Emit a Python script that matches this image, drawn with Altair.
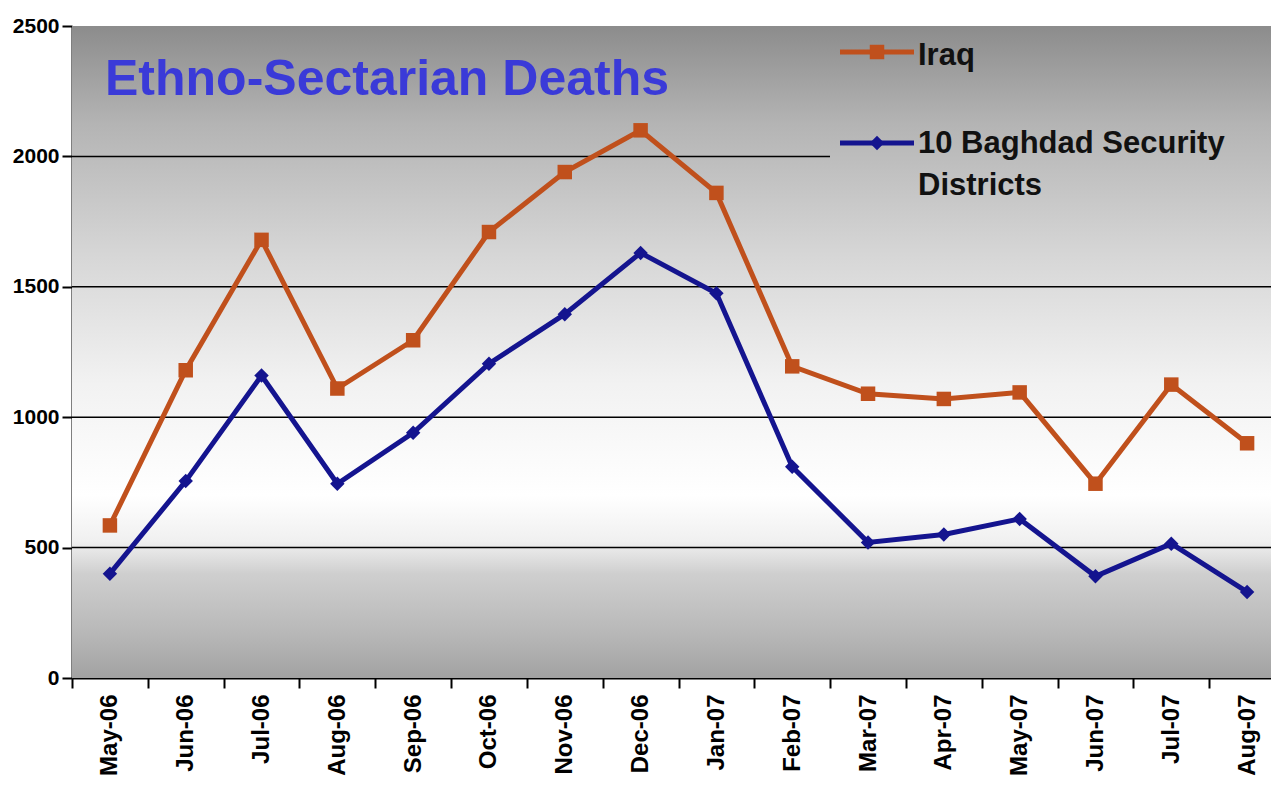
import altair as alt
import pandas as pd

# ---- data ----
months = ["May-06", "Jun-06", "Jul-06", "Aug-06", "Sep-06", "Oct-06", "Nov-06", "Dec-06",
          "Jan-07", "Feb-07", "Mar-07", "Apr-07", "May-07", "Jun-07", "Jul-07", "Aug-07"]
iraq = [585, 1180, 1680, 1110, 1295, 1710, 1940, 2100, 1860, 1195, 1090, 1070, 1095, 745, 1125, 900]
baghdad = [400, 755, 1160, 745, 940, 1205, 1395, 1630, 1475, 810, 520, 550, 610, 390, 515, 330]
series_names = ["Iraq", "10 Baghdad Security Districts"]
series_colors = ["#C0501C", "#14148F"]
series_shapes = ["square", "diamond"]
y_ticks = [0, 500, 1000, 1500, 2000, 2500]
full_grid = [500, 1000, 1500]
short_grid = [2000]
title_text = "Ethno-Sectarian Deaths"

rows = []
for m, v in zip(months, iraq):
    rows.append({"month": m, "series": series_names[0], "value": v})
for m, v in zip(months, baghdad):
    rows.append({"month": m, "series": series_names[1], "value": v})
df = pd.DataFrame(rows)

W, H = 1199, 652
FONT = "Liberation Sans"

xscale = alt.Scale(type="band", domain=months, range=[0, 1213], paddingInner=0, paddingOuter=0)
yscale = alt.Scale(domain=[0, 2500], nice=False)
cscale = alt.Scale(domain=series_names, range=series_colors)
sscale = alt.Scale(domain=series_names, range=series_shapes)

xaxis = alt.Axis(labelAngle=270, labelAlign="right", labelBaseline="middle",
                 labelFont=FONT, labelFontSize=24, labelFontWeight="bold",
                 labelColor="black", labelPadding=6, labelOverlap=False,
                 labelBound=False, labelLimit=0, title=None,
                 tickBand="extent", tickSize=10, tickWidth=2, tickColor="black",
                 domainColor="black", domainWidth=2, grid=False)
yaxis = alt.Axis(values=y_ticks, format="d", labelFont=FONT, labelFontSize=21, labelFontWeight="bold",
                 labelColor="black", labelPadding=3, tickSize=10, tickWidth=2, title=None,
                 tickColor="black", domainColor="black", domainWidth=2, grid=False,
                 labelFlush=False)

one = alt.Data(values=[{}])

bg = alt.Chart(one).mark_rect(
    fill=alt.Gradient(
        gradient="linear", x1=0, x2=0, y1=0, y2=1,
        stops=[
            alt.GradientStop(color="#8c8c8c", offset=0),
            alt.GradientStop(color="#b4b4b4", offset=0.15),
            alt.GradientStop(color="#d6d6d6", offset=0.35),
            alt.GradientStop(color="#f2f2f2", offset=0.55),
            alt.GradientStop(color="#ffffff", offset=0.72),
            alt.GradientStop(color="#f0f0f0", offset=0.79),
            alt.GradientStop(color="#cfcfcf", offset=0.84),
            alt.GradientStop(color="#b8b8b8", offset=0.93),
            alt.GradientStop(color="#a2a2a2", offset=1),
        ],
    )
).encode(x=alt.value(0), x2=alt.value(W), y=alt.value(0), y2=alt.value(H))

grid_full = alt.Chart(pd.DataFrame({"value": full_grid})).mark_rule(color="black", strokeWidth=1.5).encode(
    y=alt.Y("value:Q", scale=yscale, axis=yaxis), x=alt.value(0), x2=alt.value(W)
)
grid_short = alt.Chart(pd.DataFrame({"value": short_grid})).mark_rule(color="black", strokeWidth=1.5).encode(
    y=alt.Y("value:Q", scale=yscale, axis=yaxis), x=alt.value(0), x2=alt.value(758)
)

base = alt.Chart(df)
xenc = alt.X("month:N", scale=xscale, sort=months, axis=xaxis)
yenc = alt.Y("value:Q", scale=yscale, axis=yaxis)

lines = base.mark_line(strokeWidth=5).encode(
    x=xenc, y=yenc,
    color=alt.Color("series:N", scale=cscale, legend=None),
    detail="series:N",
)
points = base.mark_point(filled=True, opacity=1, size=210).encode(
    x=xenc, y=yenc,
    color=alt.Color("series:N", scale=cscale, legend=None),
    shape=alt.Shape("series:N", scale=sscale, legend=None),
)

title = alt.Chart(one).mark_text(
    text=title_text, font=FONT, fontSize=50, fontWeight="bold", color="#3a3ad8",
    align="left", baseline="alphabetic"
).encode(x=alt.value(33), y=alt.value(69))

# manual legend (Excel-style line + marker)
leg_lines = alt.Chart(pd.DataFrame({"series": series_names, "ly": [26, 117]})).mark_rule(strokeWidth=5).encode(
    x=alt.value(768), x2=alt.value(842), y=alt.Y("ly:Q", scale=None),
    color=alt.Color("series:N", scale=cscale, legend=None),
)
leg_pts = alt.Chart(pd.DataFrame({"series": series_names, "ly": [26, 117]})).mark_point(filled=True, opacity=1, size=210).encode(
    x=alt.value(805), y=alt.Y("ly:Q", scale=None),
    color=alt.Color("series:N", scale=cscale, legend=None),
    shape=alt.Shape("series:N", scale=sscale, legend=None),
)
leg_text = alt.Chart(pd.DataFrame({"t": ["Iraq", "10 Baghdad Security", "Districts"], "ty": [39, 127, 169]})).mark_text(
    font=FONT, fontSize=31, fontWeight="bold", color="#111111", align="left", baseline="alphabetic"
).encode(x=alt.value(846), y=alt.Y("ty:Q", scale=None), text="t:N")

chart = alt.layer(bg, grid_full, grid_short, lines, points, title, leg_lines, leg_pts, leg_text).resolve_scale(
    color="shared", shape="shared"
).properties(
    width=W, height=H,
    autosize=alt.AutoSizeParams(type="none"),
    padding={"left": 64, "top": 18, "right": 0, "bottom": 106},
    background="white",
).configure_view(stroke=None)

chart.save("out.html", embed_options={"renderer": "svg", "actions": False})
